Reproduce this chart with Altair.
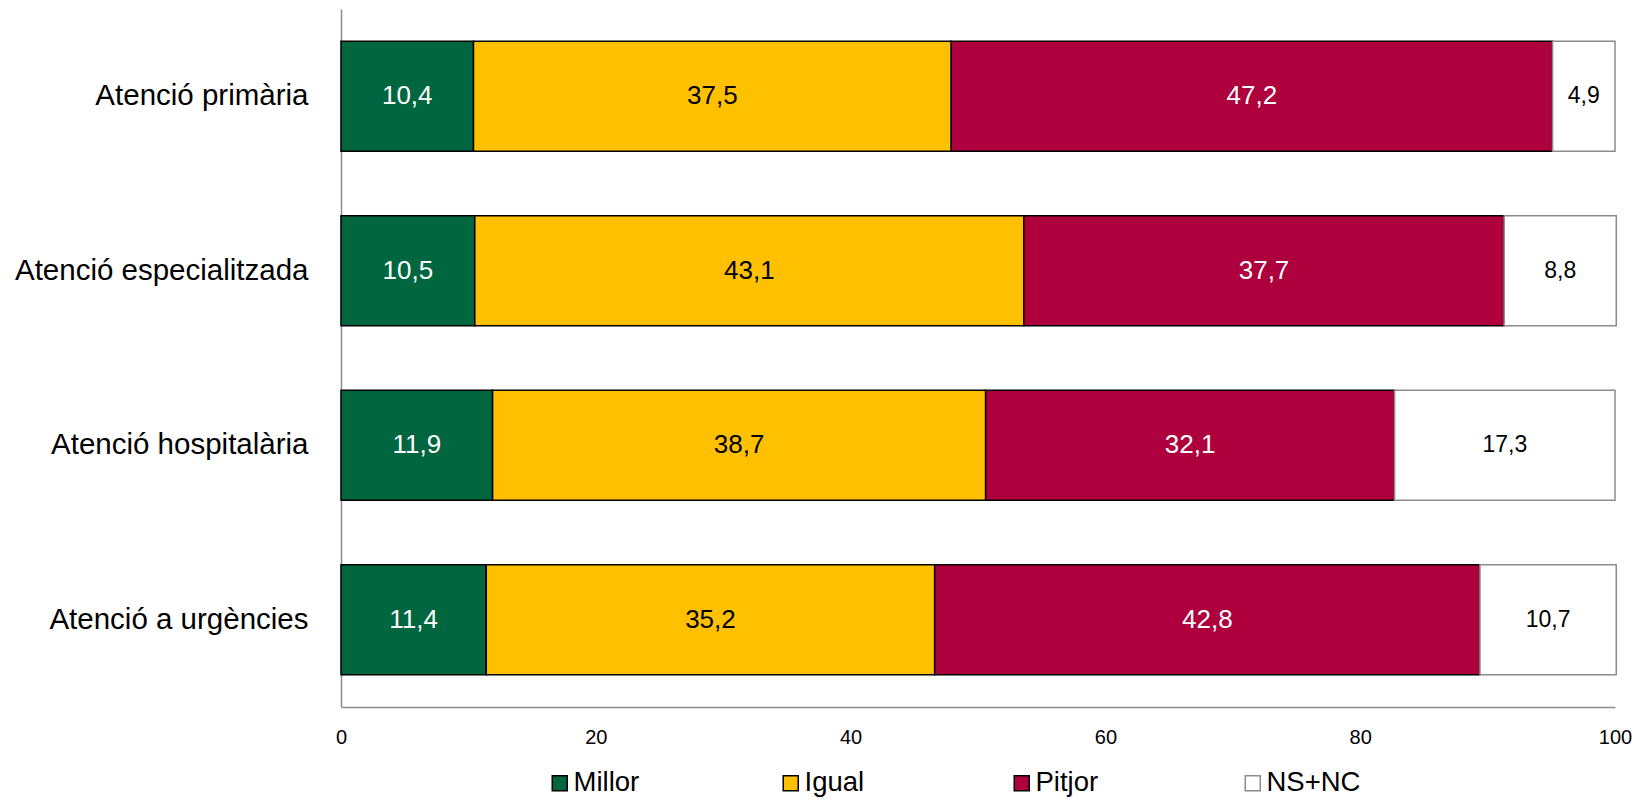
import altair as alt
import pandas as pd

categories = ["Atenció primària", "Atenció especialitzada", "Atenció hospitalària", "Atenció a urgències"]
series = ["Millor", "Igual", "Pitjor", "NS+NC"]
millor = [10.4, 10.5, 11.9, 11.4]
igual = [37.5, 43.1, 38.7, 35.2]
pitjor = [47.2, 37.7, 32.1, 42.8]
nsnc = [4.9, 8.8, 17.3, 10.7]

fill_colors = ["#00663F", "#FFC000", "#AE003C", "#FFFFFF"]
stroke_colors = ["#000000", "#000000", "#000000", "#8C8C8C"]
text_colors = ["#FFFFFF", "#000000", "#FFFFFF", "#000000"]

rows = []
for s_idx, (s, vals) in enumerate(zip(series, [millor, igual, pitjor, nsnc])):
    for c, v in zip(categories, vals):
        rows.append({
            "cat": c,
            "serie": s,
            "ord": s_idx,
            "val": v,
            "lbl": f"{v:.1f}".replace(".", ","),
            "tcol": text_colors[s_idx],
            "big": s != "NS+NC",
        })
df = pd.DataFrame(rows)

FONT = "Liberation Sans"

base = alt.Chart(df).transform_stack(
    stack="val", groupby=["cat"], as_=["v0", "v1"], sort=[alt.SortField("ord", order="ascending")]
).transform_calculate(mid="(datum.v0 + datum.v1) / 2")

yenc = alt.Y(
    "cat:N",
    sort=categories,
    title=None,
    scale=alt.Scale(paddingInner=0.37, paddingOuter=0.185),
    axis=alt.Axis(
        labelFont=FONT, labelFontSize=29.5, labelColor="#000000", labelPadding=33,
        ticks=False, domainColor="#8C8C8C", domainWidth=1.5, labelLimit=400,
    ),
)

legend_cfg = dict(
    title=None, orient="none", direction="horizontal", legendX=205, legendY=760,
    symbolType="square", symbolSize=225, symbolStrokeWidth=1.5,
    labelFont=FONT, labelFontSize=27.5, labelColor="#000000", labelOffset=0,
    columnPadding=109, gridAlign="all",
)

bars = base.mark_bar(strokeWidth=1.5).encode(
    x=alt.X(
        "v0:Q", title=None,
        scale=alt.Scale(domain=[0, 100], nice=False),
        axis=alt.Axis(
            values=[0, 20, 40, 60, 80, 100], grid=False, ticks=False,
            labelFont=FONT, labelFontSize=20, labelColor="#000000", labelPadding=20,
            domainColor="#8C8C8C", domainWidth=1.5, labelFlush=False,
        ),
    ),
    x2="v1:Q",
    y=yenc,
    fill=alt.Fill(
        "serie:N",
        sort=series,
        scale=alt.Scale(domain=series, range=fill_colors),
        legend=alt.Legend(**legend_cfg),
    ),
    stroke=alt.Stroke(
        "serie:N",
        sort=series,
        scale=alt.Scale(domain=series, range=stroke_colors),
        legend=alt.Legend(**legend_cfg),
    ),
    order=alt.Order("ord:Q"),
)

labels_big = base.transform_filter("datum.big").mark_text(
    font=FONT, fontSize=26, align="center", baseline="middle"
).encode(
    x="mid:Q",
    y=alt.Y("cat:N", sort=categories),
    text="lbl:N",
    color=alt.Color("tcol:N", scale=None),
)

labels_small = base.transform_filter("!datum.big").mark_text(
    font=FONT, fontSize=23, align="center", baseline="middle"
).encode(
    x="mid:Q",
    y=alt.Y("cat:N", sort=categories),
    text="lbl:N",
    color=alt.Color("tcol:N", scale=None),
)

chart = alt.layer(bars, labels_big, labels_small).properties(
    width=1274,
    height=698,
    autosize=alt.AutoSizeParams(type="none"),
    padding={"left": 333, "top": 1, "right": 17, "bottom": 93},
    background="#FFFFFF",
).configure_view(stroke=None)

chart.save("out.html", embed_options={"renderer": "svg", "actions": False})
